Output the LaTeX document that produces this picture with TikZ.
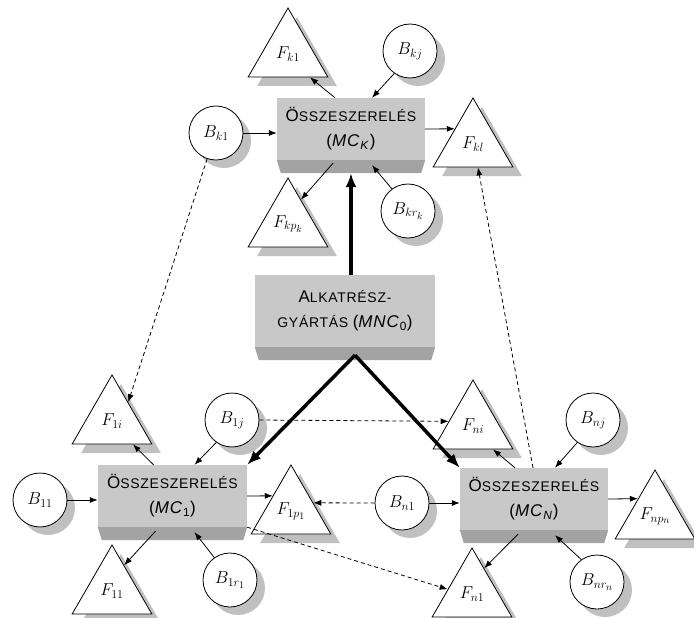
\documentclass[tikz,border=0pt]{standalone}
\usepackage{fontspec}
\setmainfont{Liberation Sans}
\usetikzlibrary{shapes.geometric,shadows,calc,arrows.meta}

\definecolor{boxlight}{RGB}{200,200,200}
\definecolor{boxdark}{RGB}{163,163,163}
\definecolor{shade}{RGB}{192,192,192}

\tikzset{
    assembly/.style={rectangle, fill=boxlight, minimum width=148pt, minimum height=62pt,
        inner sep=0pt, align=center, font=\fontsize{14}{25}\selectfont\addfontfeature{LetterSpace=5}},
    part/.style={circle, draw, fill=white, line width=0.8pt, minimum size=54pt, inner sep=0pt,
        general shadow={fill=shade, shadow xshift=8pt, shadow yshift=-8pt},
        font=\fontsize{17.28}{20}\selectfont},
    product/.style={regular polygon, regular polygon sides=3, draw, fill=white, line width=0.8pt,
        minimum size=92pt, inner sep=0pt,
        general shadow={fill=shade, shadow xshift=9pt, shadow yshift=-9pt},
        font=\fontsize{17.28}{20}\selectfont},
    flow/.style={->, line width=0.8pt},
    info/.style={->, line width=0.8pt, dash pattern=on 4pt off 3pt},
    main/.style={->, line width=3.5pt, >={Latex[length=14pt,width=11pt]}}
}
\newcommand{\capbig}[1]{{\fontsize{17}{25}\selectfont\addfontfeature{LetterSpace=5}#1}}

\begin{document}
\begin{tikzpicture}[x=1pt, y=-1pt, >={Latex[length=8pt,width=6pt]}]
    \useasboundingbox (0, 0) rectangle (694, 618);

    % Stations
    \node [assembly] (mck) at (351, 129) {\capbig{Ö}SSZESZERELÉS\\\capbig{(\textit{MC}\textsubscript{\textit{K}})}};
    \node [assembly, minimum width=180pt, minimum height=72pt] (mnc) at (345, 311)
        {\capbig{A}LKATRÉSZ-\\GYÁRTÁS \capbig{(\textit{MNC}\textsubscript{0})}};
    \node [assembly, minimum width=149pt] (mc1) at (172.5, 496) {\capbig{Ö}SSZESZERELÉS\\\capbig{(\textit{MC}\textsubscript{1})}};
    \node [assembly] (mcn) at (534, 499) {\capbig{Ö}SSZESZERELÉS\\\capbig{(\textit{MC}\textsubscript{\textit{N}})}};

    % Lower faces
    \foreach \s in {mck, mnc, mc1, mcn}
        \fill [boxdark] (\s.south west) -- (\s.south east) -- ([xshift=-4pt, yshift=-13pt]\s.south east)
            -- ([xshift=4pt, yshift=-13pt]\s.south west) -- cycle;

    % Top station
    \node [product] (fk1) at (288, 54) {$F_{k1}$};
    \node [part] (bkj) at (410, 51) {$B_{kj}$};
    \node [part] (bk1) at (216, 133) {$B_{k1}$};
    \node [product] (fkl) at (473, 144) {$F_{kl}$};
    \node [product] (fkp) at (288, 224) {$F_{kp_k}$};
    \node [part] (bkr) at (408, 211) {$B_{kr_k}$};

    % Left station
    \node [product] (f1i) at (112, 421) {$F_{1i}$};
    \node [part] (b1j) at (232, 420) {$B_{1j}$};
    \node [part] (b11) at (40, 500) {$B_{11}$};
    \node [product] (f1p) at (291, 511) {$F_{1p_1}$};
    \node [product] (f11) at (112, 591) {$F_{11}$};
    \node [part] (b1r) at (230, 580) {$B_{1r_1}$};

    % Right station
    \node [product] (fni) at (473, 426) {$F_{ni}$};
    \node [part] (bnj) at (593, 420) {$B_{nj}$};
    \node [part] (bn1) at (402, 503) {$B_{n1}$};
    \node [product] (fnp) at (655, 516) {$F_{np_n}$};
    \node [product] (fn1) at (472, 594) {$F_{n1}$};
    \node [part] (bnr) at (597, 582) {$B_{nr_n}$};

    % Material flow
    \coordinate (split) at ($(mnc.south) + (10, 8)$);
    \draw [main] (mnc.north -| mck.south) -- ([yshift=-13pt]mck.south);
    \draw [main] (split) -- (mc1.north east);
    \draw [main] (split) -- (mcn.north west);

    \draw [flow] ([xshift=-16pt]mck.north) -- ([xshift=22pt]fk1.south);
    \draw [flow] (bkj.235) -- ([xshift=21pt]mck.north);
    \draw [flow] (bk1.east) -- (bk1.east -| mck.west);
    \draw [flow] (mck.east) -- ($(fkl.corner 1)!0.45!(fkl.corner 2)$);
    \draw [flow] ([xshift=-18pt, yshift=-3pt]mck.south) -- ($(fkp.corner 1)!0.32!(fkp.corner 3)$);
    \draw [flow] (bkr.126) -- ([xshift=21pt, yshift=-5pt]mck.south);

    \draw [flow] ([xshift=-19pt]mc1.north) -- ([xshift=21pt]f1i.south);
    \draw [flow] (b1j.235) -- ([xshift=22pt]mc1.north);
    \draw [flow] (b11.east) -- (b11.east -| mc1.west);
    \draw [flow] (mc1.east) -- ($(f1p.corner 1)!0.45!(f1p.corner 2)$);
    \draw [flow] ([xshift=-17pt, yshift=-4pt]mc1.south) -- ($(f11.corner 1)!0.3!(f11.corner 3)$);
    \draw [flow] (b1r.125) -- ([xshift=22pt, yshift=-5pt]mc1.south);

    \draw [flow] ([xshift=-19pt]mcn.north) -- ([xshift=20pt]fni.south);
    \draw [flow] (bnj.235) -- ([xshift=21pt]mcn.north);
    \draw [flow] (bn1.east) -- (bn1.east -| mcn.west);
    \draw [flow] (mcn.east) -- ($(fnp.corner 1)!0.42!(fnp.corner 2)$);
    \draw [flow] ([xshift=-16pt, yshift=-4pt]mcn.south) -- ($(fn1.corner 1)!0.3!(fn1.corner 3)$);
    \draw [flow] (bnr.125) -- ([xshift=21pt, yshift=-5pt]mcn.south);

    % Information links
    \draw [info] (bk1.251) -- ($(f1i.corner 1)!0.4!(f1i.corner 3)$);
    \draw [info] (b1j.east) -- ($(fni.corner 1)!0.6!(fni.corner 2)$);
    \draw [info] (bn1.west) -- ($(f1p.corner 1)!0.55!(f1p.corner 3)$);
    \draw [info] (mc1.south east) -- ($(fn1.corner 1)!0.6!(fn1.corner 2)$);
    \draw [info] ([xshift=-1pt]mcn.north) -- ([xshift=5pt]fkl.south);
\end{tikzpicture}
\end{document}
